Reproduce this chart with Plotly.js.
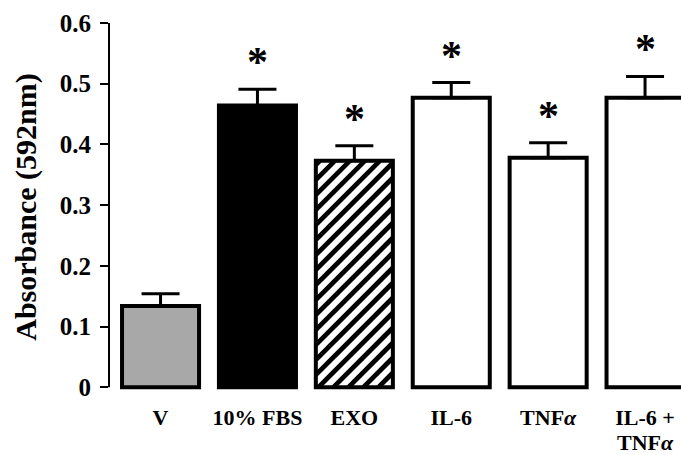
<!DOCTYPE html>
<html>
<head>
<meta charset="utf-8">
<script src="https://cdn.plot.ly/plotly-3.0.1.min.js"></script>
<style>html,body{margin:0;padding:0;background:#fff;}#chart{width:681px;height:455px;}</style>
</head>
<body>
<div id="chart"></div>
<script>
// Data
var categories = ["V", "10% FBS", "EXO", "IL-6", "TNF<i>α</i>", "IL-6 +<br>TNF<i>α</i>"];
var absorbance = [0.134, 0.464, 0.373, 0.477, 0.378, 0.477];
var sem = [0.020, 0.027, 0.025, 0.025, 0.025, 0.035];
var significant = [false, true, true, true, true, true];
var hatched = [false, false, true, false, false, false];
var yTickVals = [0, 0.1, 0.2, 0.3, 0.4, 0.5, 0.6];
var yTickText = ["0", "0.1", "0.2", "0.3", "0.4", "0.5", "0.6"];

var fills = ["#a8a8a8", "#000000", "#ffffff", "#ffffff", "#ffffff", "#ffffff"];

var serif = "Liberation Serif, Times New Roman, serif";
var labelSize = 22;

// layout geometry
var W = 681, H = 455;
var margin = {l: 109, r: 0, t: 23, b: 64};
var xRange = [-0.532, 5.371];
var yRange = [-0.006, 0.6];
var barWidth = 0.795;

var positions = categories.map(function(c, i){ return i; });
var firstLines = categories.map(function(c){ return c.split("<br>")[0]; });

var bars = {
  type: "bar",
  x: positions,
  y: absorbance,
  width: barWidth,
  marker: {
    color: fills,
    line: {color: "#000", width: 4}
  },
  error_y: {
    type: "data", symmetric: false,
    array: sem,
    arrayminus: sem.map(function(){return 0;}),
    color: "#000", thickness: 3, width: 19
  },
  hoverinfo: "none"
};

// diagonal hatching ("/") inside hatched bars, derived from the bar's value
var kx = (W - margin.l - margin.r) / (xRange[1] - xRange[0]);
var ky = (H - margin.t - margin.b) / (yRange[1] - yRange[0]);
var hx = [], hy = [];
var period = 15;
positions.forEach(function(p, i){
  if (!hatched[i]) return;
  var x0 = p - barWidth / 2;
  var bw = barWidth * kx, bh = absorbance[i] * ky;
  for (var c = -bh + 4; c < bw; c += period) {
    var u0 = Math.max(0, c), u1 = Math.min(bw, bh + c);
    if (u1 <= u0) continue;
    hx.push(x0 + u0 / kx, x0 + u1 / kx, null);
    hy.push((u0 - c) / ky, (u1 - c) / ky, null);
  }
});
var hatch = {
  type: "scatter", mode: "lines", x: hx, y: hy,
  line: {color: "#000", width: 4.8}, hoverinfo: "none", connectgaps: false
};

var annotations = [];
categories.forEach(function(c, i){
  if (significant[i]) {
    annotations.push({
      x: positions[i], y: absorbance[i] + sem[i], xref: "x", yref: "y",
      text: "*", showarrow: false, yanchor: "middle", yshift: 27,
      font: {family: serif, size: 42, color: "#000", weight: "bold"}
    });
  }
  var lines = c.split("<br>");
  for (var k = 1; k < lines.length; k++) {
    annotations.push({
      x: positions[i], y: 0, xref: "x", yref: "paper",
      text: lines[k], showarrow: false, yanchor: "middle",
      yshift: -51 - 24 * (k - 1),
      font: {family: serif, size: labelSize, color: "#000", weight: "bold"}
    });
  }
});

var layout = {
  width: W, height: H,
  margin: margin,
  paper_bgcolor: "#fff", plot_bgcolor: "#fff",
  showlegend: false,
  xaxis: {
    range: xRange,
    tickvals: positions, ticktext: firstLines,
    showline: false, showgrid: false, zeroline: false,
    ticks: "", ticklabelstandoff: 11,
    tickfont: {family: serif, size: labelSize, color: "#000", weight: "bold"}
  },
  yaxis: {
    range: yRange,
    tickvals: yTickVals, ticktext: yTickText,
    showline: false, showgrid: false, zeroline: false,
    ticks: "outside", ticklen: 8, tickwidth: 2, tickcolor: "#000",
    ticklabelstandoff: 4,
    tickfont: {family: serif, size: 25, color: "#000", weight: "bold"},
    title: {text: "Absorbance (592nm)", standoff: 14,
            font: {family: serif, size: 30, color: "#000", weight: "bold"}}
  },
  shapes: [{
    type: "line", xref: "paper", yref: "y", x0: 0, x1: 0, y0: 0, y1: 0.6,
    line: {color: "#000", width: 2}
  }],
  annotations: annotations
};

Plotly.newPlot("chart", [bars, hatch], layout, {staticPlot: true, displayModeBar: false});
</script>
</body>
</html>
